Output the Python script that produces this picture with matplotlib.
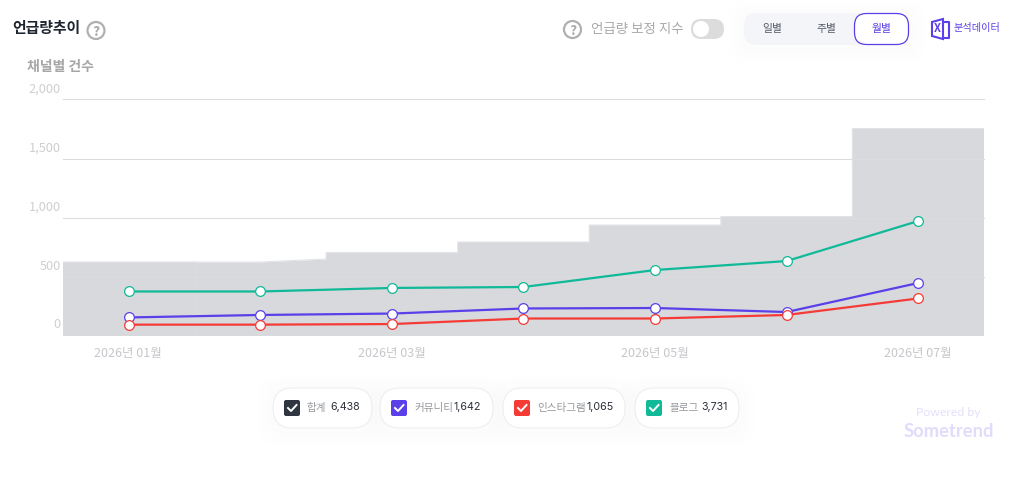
import matplotlib
matplotlib.use("Agg")
import matplotlib.pyplot as plt
from matplotlib.patches import Circle, FancyBboxPatch, Polygon

plt.rcParams["font.family"] = ["Noto Sans CJK KR", "DejaVu Sans"]

months = ["2026년 01월", "", "2026년 03월", "", "2026년 05월", "", "2026년 07월"]
total_start = [623, 623, 703, 792, 936, 1008, 1754]
total_end = [623, 648, 703, 792, 936, 1008, 1754]
community = [153, 174, 186, 229, 233, 199, 445]
instagram = [92, 92, 97, 144, 144, 174, 314]
blog = [373, 373, 403, 411, 555, 631, 970]
y_ticks = [0, 500, 1000, 1500, 2000]
y_labels = ["0", "500", "1,000", "1,500", "2,000"]

legend_names = ["합계", "커뮤니티", "인스타그램", "블로그"]
legend_counts = ["6,438", "1,642", "1,065", "3,731"]
legend_colors = ["#2f3541", "#5b3fe8", "#f53b36", "#10b998"]
legend_left = [273, 380, 503, 635]
legend_right = [372, 493, 625, 739]

W, H = 1012, 480
PURPLE = "#5b3fe8"


def pill(ax, x0, y0, x1, y1, r, face, edge="none", lw=1, z=2):
    p = FancyBboxPatch((x0 + r, y0 + r), x1 - x0 - 2 * r, y1 - y0 - 2 * r,
                       boxstyle=f"round,pad={r},rounding_size={r}",
                       fc=face, ec=edge, lw=lw, zorder=z)
    ax.add_patch(p)


def shadow(ax, x0, y0, x1, y1, r):
    for s in [9, 6, 3]:
        p = FancyBboxPatch((x0 + r - s, y0 + r - s + 3),
                           x1 - x0 - 2 * r + 2 * s, y1 - y0 - 2 * r + 2 * s,
                           boxstyle=f"round,pad={r + s * 0.8},rounding_size={r + s}",
                           fc="#8088a0", ec="none", alpha=0.008, zorder=1)
        ax.add_patch(p)


def question(ax, x, y, r=8.5):
    ax.add_patch(Circle((x, y), r, fc="white", ec="#b0b0b0", lw=1.6, zorder=3))
    ax.text(x, y, "?", color="#a8a8a8", fontsize=10, fontweight="bold",
            ha="center", va="center_baseline", zorder=4)


fig = plt.figure(figsize=(W / 100, H / 100), dpi=100)

# chart area, placed in pixels
left, right, top, bottom = 63, 984, 99.5, 335.5
ax = fig.add_axes([left / W, 1 - bottom / H, (right - left) / W, (bottom - top) / H])
ax.set_xlim(-0.5, 6.5)
ax.set_ylim(0, 2000)
for side in ax.spines.values():
    side.set_visible(False)
ax.set_xticks([])
ax.set_yticks([])

xs_outline = []
ys_outline = []
for i in range(len(total_start)):
    xs = [i - 0.5, i, i + 0.5]
    ys = [total_start[i], total_start[i], total_end[i]]
    ax.fill_between(xs, ys, 0, color="#d8d9dd", lw=0, zorder=2)
    xs_outline += xs
    ys_outline += ys
ax.plot(xs_outline, ys_outline, color="#e2e3e6", lw=0.8, zorder=2)

for t in y_ticks[1:]:
    ax.axhline(t, color="#dcdcdf", lw=0.75, zorder=3, clip_on=False)

x = range(len(months))
for values, color in [(blog, "#10b998"), (community, PURPLE), (instagram, "#f53b36")]:
    ax.plot(x, values, color=color, lw=1.6, marker="o", ms=7, mfc="white",
            mec=color, mew=0.9, zorder=5, clip_on=False)

# page furniture drawn in pixel coordinates on top
ui = fig.add_axes([0, 0, 1, 1], facecolor="none")
ui.set_xlim(0, W)
ui.set_ylim(H, 0)
ui.axis("off")

for t, label in zip(y_ticks, y_labels):
    py = bottom - t * (bottom - top) / 2000
    ui.text(61, py - 10.5, label, color="#cfcfd2", fontsize=9.2, ha="right", va="center")
for i, label in enumerate(months):
    if label:
        ui.text(left + (i + 0.5) * (right - left) / 7 - 0.5, 353.5, label, color="#c6c7cb",
                fontsize=9, ha="center", va="center")

ui.text(12, 28.5, "언급량추이", color="#1e2530", fontsize=10.7, fontweight="bold",
        va="center")
question(ui, 96, 30.5)
ui.text(27, 67, "채널별 건수", color="#a6a6a6", fontsize=10, fontweight="bold", va="center")

question(ui, 572.5, 29.5)
ui.text(591, 28.5, "언급량 보정 지수", color="#a9a9a9", fontsize=9.7, va="center")
pill(ui, 691, 19, 724, 39, 10, "#dcdcdc")
ui.add_patch(Circle((701, 29), 8, fc="white", ec="none", zorder=3))

shadow(ui, 744, 13, 909, 45, 12)
pill(ui, 744, 13, 909, 45, 12, "#f4f5f8")
pill(ui, 854.5, 13.5, 908.5, 44.5, 12, "white", PURPLE, 0.9, 3)
ui.text(772, 29, "일별", color="#555b66", fontsize=7.8, ha="center", va="center", zorder=4)
ui.text(826.5, 29, "주별", color="#555b66", fontsize=7.8, ha="center", va="center", zorder=4)
ui.text(881.5, 29, "월별", color=PURPLE, fontsize=7.8, ha="center", va="center", zorder=4)

# excel-style icon
ui.add_patch(Polygon([(932, 22), (943, 19), (943, 39), (932, 36)], closed=True,
                     fc="white", ec=PURPLE, lw=1.5, zorder=3))
ui.plot([945, 949, 949, 945], [22, 22, 38, 38], color=PURPLE, lw=1.5, zorder=3)
ui.text(937.8, 29, "X", color=PURPLE, fontsize=8, fontweight="bold", ha="center",
        va="center", zorder=4)
ui.text(953.5, 28, "분석데이터", color=PURPLE, fontsize=7.3, va="center", zorder=4)

# legend pills
for name, count, color, x0, x1 in zip(legend_names, legend_counts, legend_colors,
                                      legend_left, legend_right):
    shadow(ui, x0, 388, x1, 428, 19)
    pill(ui, x0, 388, x1, 428, 19.5, "white", "#eeeef1", 0.8)
    box = x0 + 11
    pill(ui, box, 400, box + 16, 416, 2, color, z=3)
    ui.plot([box + 4, box + 7, box + 12.5], [408, 411, 405], color="white", lw=1.4, zorder=4)
    ui.text(box + 23, 407.5, name, color="#96989d", fontsize=7.6, va="center", zorder=4)
    ui.text(x1 - 11.5, 407.5, count, color="#2a2f38", fontsize=7.7, ha="right",
            va="center", zorder=4, family=["Inter", "DejaVu Sans"])

ui.text(948.5, 413, "Powered by", color="#e4e0fb", fontsize=8.8, ha="center",
        va="center", family=["Lato", "DejaVu Sans"])
ui.text(949, 431.5, "Sometrend", color="#e0dcfb", fontsize=13.2, fontweight="bold",
        ha="center", va="center", family=["Lato", "DejaVu Sans"])

fig.savefig("out.png", dpi=100, facecolor="white")
